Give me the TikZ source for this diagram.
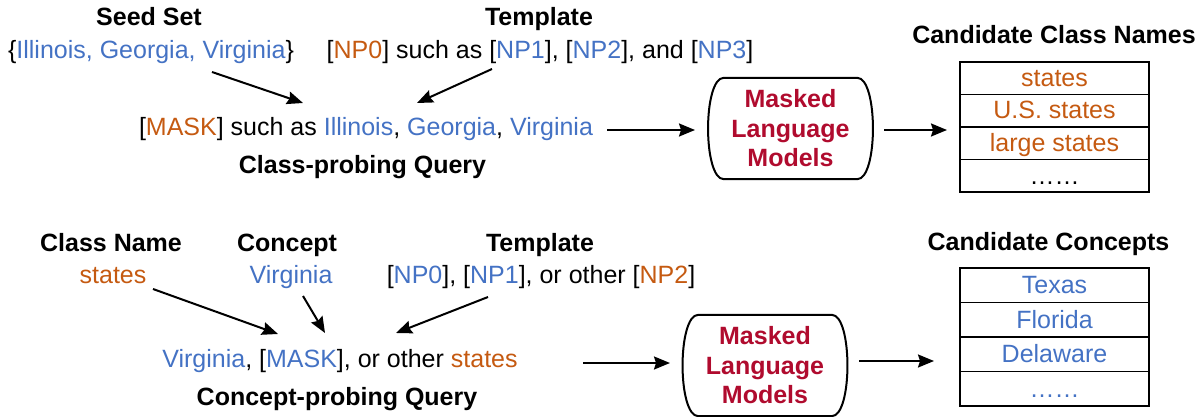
\documentclass[tikz,border=0pt]{standalone}
\usepackage{fontspec}
\setmainfont{Liberation Sans}
\usetikzlibrary{arrows.meta,calc}
\definecolor{cblue}{HTML}{4472C4}
\definecolor{corange}{HTML}{C55A11}
\definecolor{cred}{HTML}{B00B2E}
\newcommand\blu[1]{\textcolor{cblue}{#1}}
\newcommand\brn[1]{\textcolor{corange}{#1}}

\begin{document}
\begin{tikzpicture}[x=1pt,y=1pt,
  txt/.style={anchor=base, inner sep=0pt, font=\fontsize{25}{30}\selectfont},
  title/.style={txt, font=\fontsize{25}{30}\selectfont\bfseries},
  arr/.style={line width=2pt, -{Stealth[length=16pt,width=13pt,inset=2pt]}},
  mlm/.style={minimum width=133pt, minimum height=101pt, inner sep=0pt,
    align=center, text=cred, font=\fontsize{25}{29.5}\selectfont\bfseries},
  outline/.style={line width=2pt},
  row/.style={draw, line width=1.8pt, minimum width=189pt, inner sep=0pt,
    text height=20pt, text depth=3.5pt, font=\fontsize{25}{30}\selectfont},
]
\useasboundingbox (0,0) rectangle (1197,-417);

% ---------- class probing ----------
\node[title] (seedT) at (149,-26) {Seed Set};
\node[txt] (seed) at (151,-59) {\{\blu{Illinois, Georgia, Virginia}\}};
\node[title] (tmplT) at (539,-26) {Template};
\node[txt] (tmpl) at (540,-59) {[\brn{NP0}] such as [\blu{NP1}], [\blu{NP2}], and [\blu{NP3}]};
\node[txt] (q1) at (366,-136) {[\brn{MASK}] such as \blu{Illinois}, \blu{Georgia}, \blu{Virginia}};
\node[title] (q1T) at (362.5,-174) {Class-probing Query};

\node[mlm] (m1) at (790.5,-128.5) {Masked\\Language\\Models};
\draw[outline] (m1.north west) -- (m1.north east)
  .. controls ($(m1.north east)+(21,0)$) and ($(m1.south east)+(21,0)$) .. (m1.south east)
  -- (m1.south west)
  .. controls ($(m1.south west)+(-21,0)$) and ($(m1.north west)+(-21,0)$) .. (m1.north west)
  -- cycle;

\node[title] (candT1) at (1054,-44) {Candidate Class Names};
\node[row, minimum height=32.5pt] (c1) at (1054.5,-78.25) {\brn{states}};
\node[row, minimum height=32.5pt] (c2) at (1054.5,-110.75) {\brn{U.S. states}};
\node[row, minimum height=32.5pt] (c3) at (1054.5,-143.25) {\brn{large states}};
\node[row, minimum height=32.5pt] (c4) at (1054.5,-175.75) {……};

\coordinate (a1s) at (212,-72);  \coordinate (a1e) at (303,-103);
\coordinate (a2s) at (492,-69);  \coordinate (a2e) at (417,-103);
\coordinate (a3s) at (607,-130); \coordinate (a3e) at (695,-130);
\coordinate (a4s) at (884,-130); \coordinate (a4e) at (947,-130);
\draw[arr] (a1s) -- (a1e);
\draw[arr] (a2s) -- (a2e);
\draw[arr] (a3s) -- (a3e);
\draw[arr] (a4s) -- (a4e);

% ---------- concept probing ----------
\node[title] (cnT) at (111,-251) {Class Name};
\node[txt] (cn) at (113,-283) {\brn{states}};
\node[title] (cpT) at (287,-251) {Concept};
\node[txt] (cp) at (291,-283) {\blu{Virginia}};
\node[title] (tmpl2T) at (540,-251) {Template};
\node[txt] (tmpl2) at (541,-283) {[\blu{NP0}], [\blu{NP1}], or other [\brn{NP2}]};
\node[txt] (q2) at (340,-367) {\blu{Virginia}, [\blu{MASK}], or other \brn{states}};
\node[title] (q2T) at (337,-405) {Concept-probing Query};

\node[mlm] (m2) at (765,-365.5) {Masked\\Language\\Models};
\draw[outline] (m2.north west) -- (m2.north east)
  .. controls ($(m2.north east)+(21,0)$) and ($(m2.south east)+(21,0)$) .. (m2.south east)
  -- (m2.south west)
  .. controls ($(m2.south west)+(-21,0)$) and ($(m2.north west)+(-21,0)$) .. (m2.north west)
  -- cycle;

\node[title] (candT2) at (1048.5,-250) {Candidate Concepts};
\node[row, minimum height=34.5pt] (d1) at (1054.5,-285.25) {\blu{Texas}};
\node[row, minimum height=34.5pt] (d2) at (1054.5,-319.75) {\blu{Florida}};
\node[row, minimum height=34.5pt] (d3) at (1054.5,-354.25) {\blu{Delaware}};
\node[row, minimum height=34.5pt] (d4) at (1054.5,-388.75) {\blu{……}};

\coordinate (b1s) at (153,-289); \coordinate (b1e) at (278,-334);
\coordinate (b2s) at (303,-296); \coordinate (b2e) at (325,-333);
\coordinate (b3s) at (488,-297); \coordinate (b3e) at (396,-333);
\coordinate (b4s) at (583,-363); \coordinate (b4e) at (670,-363);
\coordinate (b5s) at (859,-361); \coordinate (b5e) at (934,-361);
\draw[arr] (b1s) -- (b1e);
\draw[arr] (b2s) -- (b2e);
\draw[arr] (b3s) -- (b3e);
\draw[arr] (b4s) -- (b4e);
\draw[arr] (b5s) -- (b5e);
\end{tikzpicture}
\end{document}
